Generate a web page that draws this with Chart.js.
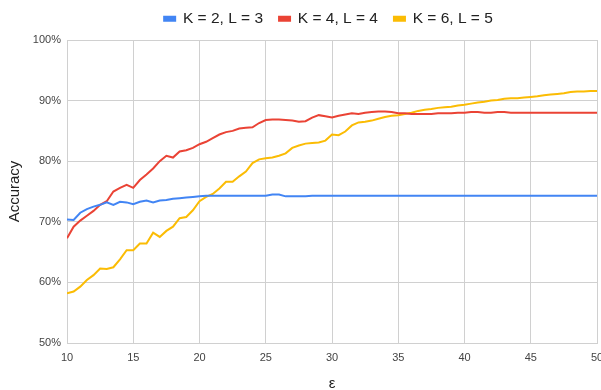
<!DOCTYPE html>
<html>
<head>
<meta charset="utf-8">
<script src="https://cdn.jsdelivr.net/npm/chart.js@4.4.1/dist/chart.umd.min.js"></script>
<style>
  html, body { margin: 0; padding: 0; background: #fff; }
  #wrap { width: 601px; height: 390px; }
</style>
</head>
<body>
<div id="wrap"><canvas id="accChart" width="601" height="390"></canvas></div>
<script>
// epsilon values (x axis)
const eps = [10, 10.5, 11, 11.5, 12, 12.5, 13, 13.5, 14, 14.5, 15, 15.5, 16, 16.5, 17, 17.5, 18, 18.5, 19, 19.5,
  20, 20.5, 21, 21.5, 22, 22.5, 23, 23.5, 24, 24.5, 25, 25.5, 26, 26.5, 27, 27.5, 28, 28.5, 29, 29.5,
  30, 30.5, 31, 31.5, 32, 32.5, 33, 33.5, 34, 34.5, 35, 35.5, 36, 36.5, 37, 37.5, 38, 38.5, 39, 39.5,
  40, 40.5, 41, 41.5, 42, 42.5, 43, 43.5, 44, 44.5, 45, 45.5, 46, 46.5, 47, 47.5, 48, 48.5, 49, 49.5, 50];

// accuracy (%) per series
const accK2 = [70.4, 70.3, 71.5, 72.1, 72.5, 72.8, 73.2, 72.8, 73.3, 73.2, 72.9, 73.3, 73.5, 73.2, 73.5, 73.6, 73.8, 73.9, 74.0, 74.1,
  74.2, 74.3, 74.3, 74.3, 74.3, 74.3, 74.3, 74.3, 74.3, 74.3, 74.3, 74.5, 74.5, 74.2, 74.2, 74.2, 74.2, 74.3, 74.3, 74.3,
  74.3, 74.3, 74.3, 74.3, 74.3, 74.3, 74.3, 74.3, 74.3, 74.3, 74.3, 74.3, 74.3, 74.3, 74.3, 74.3, 74.3, 74.3, 74.3, 74.3,
  74.3, 74.3, 74.3, 74.3, 74.3, 74.3, 74.3, 74.3, 74.3, 74.3, 74.3, 74.3, 74.3, 74.3, 74.3, 74.3, 74.3, 74.3, 74.3, 74.3, 74.3];

const accK4 = [67.3, 69.2, 70.2, 71.0, 71.8, 72.8, 73.4, 75.0, 75.6, 76.1, 75.6, 76.9, 77.8, 78.8, 80.0, 80.9, 80.6, 81.6, 81.8, 82.2,
  82.8, 83.2, 83.8, 84.4, 84.8, 85.0, 85.4, 85.5, 85.6, 86.3, 86.8, 86.9, 86.9, 86.8, 86.7, 86.5, 86.6, 87.2, 87.6, 87.4,
  87.2, 87.5, 87.7, 87.9, 87.8, 88.0, 88.1, 88.2, 88.2, 88.1, 87.9, 87.9, 87.8, 87.8, 87.8, 87.8, 87.9, 87.9, 87.9, 88.0,
  88.0, 88.1, 88.1, 88.0, 88.0, 88.1, 88.1, 88.0, 88.0, 88.0, 88.0, 88.0, 88.0, 88.0, 88.0, 88.0, 88.0, 88.0, 88.0, 88.0, 88.0];

const accK6 = [58.2, 58.5, 59.3, 60.4, 61.2, 62.3, 62.2, 62.5, 63.8, 65.3, 65.3, 66.4, 66.4, 68.2, 67.5, 68.5, 69.2, 70.6, 70.8, 71.9,
  73.4, 74.1, 74.6, 75.5, 76.6, 76.6, 77.5, 78.3, 79.7, 80.3, 80.5, 80.6, 80.9, 81.3, 82.2, 82.6, 82.9, 83.0, 83.1, 83.4,
  84.4, 84.3, 84.9, 85.9, 86.4, 86.5, 86.7, 87.0, 87.3, 87.5, 87.6, 87.8, 88.0, 88.3, 88.5, 88.6, 88.8, 88.9, 89.0, 89.2,
  89.3, 89.5, 89.7, 89.8, 90.0, 90.1, 90.3, 90.4, 90.4, 90.5, 90.6, 90.7, 90.9, 91.0, 91.1, 91.2, 91.4, 91.5, 91.5, 91.6, 91.6];

const seriesNames = ['K = 2, L = 3', 'K = 4, L = 4', 'K = 6, L = 5'];
const seriesColors = ['#4285F4', '#EA4335', '#FBBC04'];
const yTicks = [50, 60, 70, 80, 90, 100];

function toPoints(vals) {
  return eps.map((x, i) => ({ x: x, y: vals[i] }));
}

const allSeries = [accK2, accK4, accK6];

Chart.defaults.font.family = "'Liberation Sans', Arial, sans-serif";

// pin the legend band: fixed height, centred over the plot, nudged up
const legendBand = {
  id: 'legendBand',
  beforeLayout(chart) {
    const lg = chart.legend;
    if (lg && !lg._patched) {
      const fit = lg.fit.bind(lg);
      lg.fit = function () { fit(); this.height = 33; };
      lg._patched = true;
    }
  },
  afterLayout(chart) {
    const lg = chart.legend;
    if (!lg) return;
    lg.left = 57;
    lg.right = 600;
    lg.top -= 12;
    lg.bottom -= 12;
  }
};

new Chart(document.getElementById('accChart').getContext('2d'), {
  type: 'line',
  data: {
    datasets: allSeries.map((vals, i) => ({
      label: seriesNames[i],
      data: toPoints(vals),
      borderColor: seriesColors[i],
      backgroundColor: seriesColors[i],
      borderWidth: 2,
      pointRadius: 0,
      tension: 0
    }))
  },
  options: {
    responsive: false,
    animation: false,
    layout: { padding: { left: 4, right: 4, top: 7, bottom: 0 } },
    plugins: {
      legend: {
        position: 'top',
        labels: {
          boxWidth: 11,
          boxHeight: 4,
          padding: 16,
          color: '#222',
          font: { size: 15.5 }
        }
      },
      tooltip: { enabled: false }
    },
    scales: {
      x: {
        type: 'linear',
        min: 10,
        max: 50,
        ticks: { stepSize: 5, color: '#444', font: { size: 11 }, maxRotation: 0, padding: 8 },
        grid: { color: '#d0d0d0', drawTicks: false },
        border: { color: '#d0d0d0' },
        title: { display: true, text: 'ε', color: '#222', font: { size: 15 }, padding: { top: 12, bottom: -3 } },
        afterFit: (s) => { s.height = 47; s.paddingLeft = 0; s.paddingRight = 0; }
      },
      y: {
        min: 50,
        max: 100,
        afterBuildTicks: (s) => { s.ticks = yTicks.map(v => ({ value: v })); },
        ticks: { color: '#444', font: { size: 11 }, padding: 6, callback: v => v + '%' },
        grid: { color: '#d0d0d0', drawTicks: false },
        border: { color: '#d0d0d0' },
        title: { display: true, text: 'Accuracy', color: '#222', font: { size: 15 }, padding: 2 },
        afterFit: (s) => { s.width = 63; }
      }
    }
  },
  plugins: [legendBand]
});
</script>
</body>
</html>
